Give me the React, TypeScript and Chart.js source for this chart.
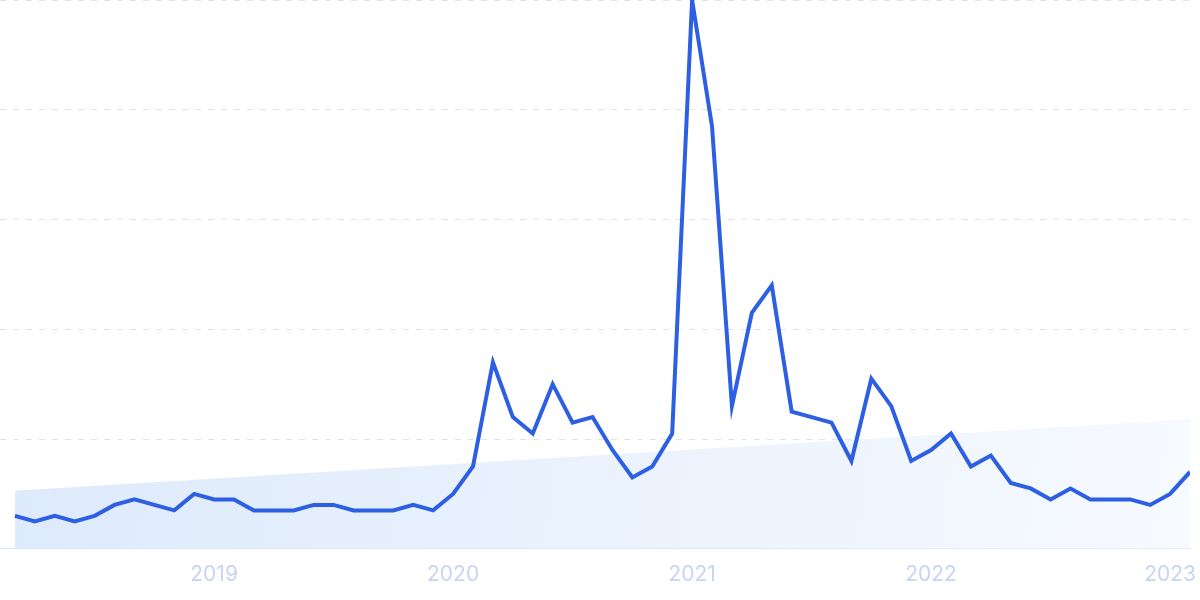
import React, { useEffect, useRef } from "react";
import { Chart, registerables } from "chart.js";

Chart.register(...registerables);

const months: string[] = [
  "2018-03", "2018-04", "2018-05", "2018-06", "2018-07", "2018-08", "2018-09", "2018-10", "2018-11", "2018-12",
  "2019-01", "2019-02", "2019-03", "2019-04", "2019-05", "2019-06", "2019-07", "2019-08", "2019-09", "2019-10", "2019-11", "2019-12",
  "2020-01", "2020-02", "2020-03", "2020-04", "2020-05", "2020-06", "2020-07", "2020-08", "2020-09", "2020-10", "2020-11", "2020-12",
  "2021-01", "2021-02", "2021-03", "2021-04", "2021-05", "2021-06", "2021-07", "2021-08", "2021-09", "2021-10", "2021-11", "2021-12",
  "2022-01", "2022-02", "2022-03", "2022-04", "2022-05", "2022-06", "2022-07", "2022-08", "2022-09", "2022-10", "2022-11", "2022-12",
  "2023-01", "2023-02",
];

const interest: number[] = [
  6, 5, 6, 5, 6, 8, 9, 8, 7, 10,
  9, 9, 7, 7, 7, 8, 8, 7, 7, 7, 8, 7,
  10, 15, 34, 24, 21, 30, 23, 24, 18, 13, 15, 21,
  100, 77, 26, 43, 48, 25, 24, 23, 16, 31, 26, 16,
  18, 21, 15, 17, 12, 11, 9, 11, 9, 9, 9, 8,
  10, 14,
];

const trendStart = 10.6;
const trendEnd = 23.6;

const yearLabels: string[] = ["2019", "2020", "2021", "2022", "2023"];

export default function App() {
  const ref = useRef<HTMLCanvasElement | null>(null);

  useEffect(() => {
    if (!ref.current) return;
    const points = interest.map((v, i) => ({ x: i, y: v }));
    const trend = [
      { x: 0, y: trendStart },
      { x: months.length - 1, y: trendEnd },
    ];
    const yearIdx = yearLabels.map((y) => months.indexOf(y + "-01"));

    const chart = new Chart(ref.current, {
      type: "line",
      data: {
        datasets: [
          {
            data: points,
            borderColor: "#2d5fe3",
            borderWidth: 4,
            pointRadius: 0,
            tension: 0,
            fill: false,
            order: 0,
          },
          {
            data: trend,
            borderWidth: 0,
            borderColor: "rgba(0,0,0,0)",
            pointRadius: 0,
            fill: "origin",
            order: 1,
            backgroundColor: (ctx: any) => {
              const { chart } = ctx;
              const area = chart.chartArea;
              if (!area) return "rgba(224,236,251,0.8)";
              const g = chart.ctx.createLinearGradient(area.left, area.top + 400, area.right, area.bottom);
              g.addColorStop(0, "rgba(221,234,251,1)");
              g.addColorStop(1, "rgba(247,250,255,1)");
              return g;
            },
          },
        ],
      },
      options: {
        animation: false,
        responsive: true,
        maintainAspectRatio: false,
        layout: { padding: { left: 0, right: 10, top: 0, bottom: 0 } },
        plugins: { legend: { display: false }, tooltip: { enabled: false } },
        scales: {
          x: {
            type: "linear",
            min: -0.75,
            max: months.length - 1,
            grid: { display: false, drawTicks: false },
            border: { display: true, color: "#d9e4f8", width: 1 },
            afterBuildTicks: (scale: any) => {
              scale.ticks = yearIdx.map((v) => ({ value: v }));
            },
            afterFit: (scale: any) => {
              scale.paddingLeft = 0;
              scale.paddingRight = 0;
            },
            ticks: {
              padding: 13,
              color: "#c7d4f4",
              font: { family: "Inter", size: 21 },
              autoSkip: false,
              maxRotation: 0,
              callback: (value: any) => {
                const k = yearIdx.indexOf(Number(value));
                return k >= 0 ? yearLabels[k] : "";
              },
            },
          },
          y: {
            min: 0,
            max: 100,
            ticks: { display: false, stepSize: 20 },
            grid: {
              drawTicks: false,
              color: (c: any) => (c.tick && c.tick.value === 0 ? "rgba(0,0,0,0)" : "#dbe4f7"),
              lineWidth: 1,
            },
            border: { display: false, dash: [6, 7] },
          },
        },
      },
    });
    return () => chart.destroy();
  }, []);

  return (
    <div style={{ position: "fixed", left: 0, top: 0, width: 1200, height: 600, background: "#fff" }}>
      <canvas ref={ref} />
    </div>
  );
}
